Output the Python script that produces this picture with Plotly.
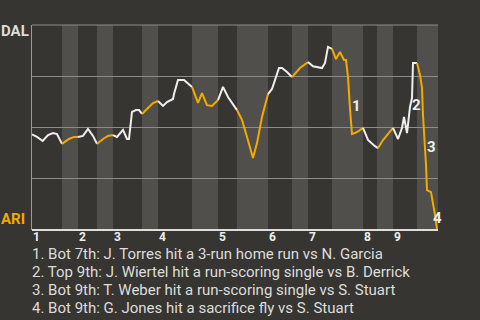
import plotly.graph_objects as go

# play position (horizontal units) and DAL win probability (%)
play_x = [0, 5, 10.7, 16, 21, 25, 30, 37, 42, 46, 51, 56, 61, 65, 71, 76, 81, 85, 91, 95, 97,
          100, 104, 107, 110, 116, 121, 126, 131, 135, 141, 142, 146, 152, 157, 160, 166, 170,
          175, 180, 186, 191, 196, 205, 210, 215, 221, 225, 230, 236, 240, 247, 250, 255, 260,
          268, 276, 281, 290, 293, 296, 300, 304, 308, 312, 314, 316, 318, 320, 325, 331, 336,
          343, 346, 351, 361, 366, 370, 372, 375, 378, 380, 381, 385, 388, 390, 391, 394, 395,
          399, 401, 403, 405]
win_prob = [46.6, 45.4, 43.4, 46.3, 47.3, 46.8, 42.0, 44.4, 45.4, 45.4, 45.9, 49.3, 45.9, 42.0,
            44.4, 45.9, 46.3, 45.4, 48.8, 44.4, 44.4, 57.6, 58.5, 58.5, 56.6, 59.5, 61.9, 62.9,
            60.5, 62.4, 63.9, 66.3, 73.2, 73.2, 71.2, 69.8, 62.0, 66.8, 60.9, 60.5, 63.4, 69.8,
            64.9, 58.5, 53.7, 45.4, 35.1, 42.4, 55.1, 66.3, 68.8, 79.0, 79.0, 77.1, 74.6, 79.0,
            81.9, 79.9, 79.0, 81.5, 89.3, 88.3, 83.4, 86.8, 82.9, 82.9, 74.6, 59.0, 46.8, 47.8,
            49.8, 43.9, 40.9, 39.9, 43.9, 49.8, 44.4, 49.8, 55.1, 47.3, 60.0, 64.4, 81.5, 81.5,
            75.6, 69.3, 56.1, 31.7, 19.5, 18.5, 13.7, 7.3, 0.5]

# half-inning boundaries (bottom halves shaded): start, end
bottom_halves = [(30, 46), (65, 81), (110, 126), (160, 186), (205, 236), (260, 276),
                 (300, 331), (345, 361), (385, 406)]
inning_starts = [0, 46, 81, 126, 186, 236, 276, 331, 361]
inning_labels = ["1", "2", "3", "4", "5", "6", "7", "8", "9"]
x_end = 406

events = ["1", "2", "3", "4"]
event_x = [324, 384, 399, 405]
event_y = [60.5, 61.0, 40.5, 5.9]
event_text = [
    "1. Bot 7th: J. Torres hit a 3-run home run vs N. Garcia",
    "2. Top 9th: J. Wiertel hit a run-scoring single vs B. Derrick",
    "3. Bot 9th: T. Weber hit a run-scoring single vs S. Stuart",
    "4. Bot 9th: G. Jones hit a sacrifice fly vs S. Stuart",
]

BG = "#363531"
BAND = "#504f4c"
WHITE = "#eeeeee"
ORANGE = "#f2a900"
FONT = "Roboto"


def in_bottom(x):
    return any(a <= x < b for a, b in bottom_halves)


fig = go.Figure()

# split line into colored segments
segs = []
cur = None
for i in range(len(play_x) - 1):
    mid = (play_x[i] + play_x[i + 1]) / 2
    col = ORANGE if in_bottom(mid) else WHITE
    if cur is None or cur["c"] != col:
        cur = {"c": col, "x": [play_x[i]], "y": [win_prob[i]]}
        segs.append(cur)
    cur["x"].append(play_x[i + 1])
    cur["y"].append(win_prob[i + 1])

for s in segs:
    fig.add_trace(go.Scatter(x=s["x"], y=s["y"], mode="lines",
                             line=dict(color=s["c"], width=2),
                             hoverinfo="skip", showlegend=False, cliponaxis=False))

shapes = []
for a, b in bottom_halves:
    shapes.append(dict(type="rect", xref="x", yref="paper", x0=a, x1=b, y0=0, y1=1,
                       fillcolor=BAND, line=dict(width=0), layer="below"))
# top frame line and bottom axis line
shapes.append(dict(type="line", xref="paper", yref="paper", x0=0, x1=1, y0=1, y1=1,
                   line=dict(color="#8c8c8a", width=1), layer="below"))
shapes.append(dict(type="line", xref="paper", yref="paper", x0=0, x1=1, y0=0, y1=0,
                   line=dict(color="#dddddd", width=2)))

annotations = []
for xs, lab in zip(inning_starts, inning_labels):
    annotations.append(dict(x=xs, y=0, xref="x", yref="paper", text="<b>%s</b>" % lab,
                            showarrow=False, xanchor="center", yanchor="middle",
                            xshift=4.5, yshift=-7, font=dict(family=FONT, size=12, color=WHITE)))
for ex, ey, lab in zip(event_x, event_y, events):
    annotations.append(dict(x=ex, y=ey, xref="x", yref="y", text="<b>%s</b>" % lab,
                            showarrow=False, xanchor="center", yanchor="middle",
                            font=dict(family=FONT, size=15, color=WHITE)))
for i, t in enumerate(event_text):
    annotations.append(dict(x=0, y=0, xref="paper", yref="paper", text=t, showarrow=False,
                            xanchor="left", yanchor="middle", xshift=-2, yshift=-24 - 18 * i,
                            font=dict(family=FONT, size=15, color="#dddddd")))
annotations.append(dict(x=0, y=1, xref="paper", yref="paper", text="<b>DAL</b>", showarrow=False,
                        xanchor="right", yanchor="middle", xshift=-1, yshift=-6,
                        font=dict(family=FONT, size=15, color="#dddddd")))
annotations.append(dict(x=0, y=0, xref="paper", yref="paper", text="<b>ARI</b>", showarrow=False,
                        xanchor="right", yanchor="middle", xshift=-5, yshift=11,
                        font=dict(family=FONT, size=15, color=ORANGE)))

fig.update_layout(
    width=480, height=320,
    margin=dict(l=32, r=42, t=25, b=90),
    paper_bgcolor=BG, plot_bgcolor=BG,
    shapes=shapes, annotations=annotations,
    xaxis=dict(range=[0, x_end], showgrid=False, zeroline=False, showticklabels=False,
               showline=False, fixedrange=True),
    yaxis=dict(range=[0, 100], tickvals=[25, 50, 75, 100], showticklabels=False,
               showgrid=True, gridcolor="#8c8c8a", gridwidth=1, zeroline=False,
               showline=True, linecolor="#9a9a98", linewidth=1, fixedrange=True),
)

fig.write_html("out.html")
